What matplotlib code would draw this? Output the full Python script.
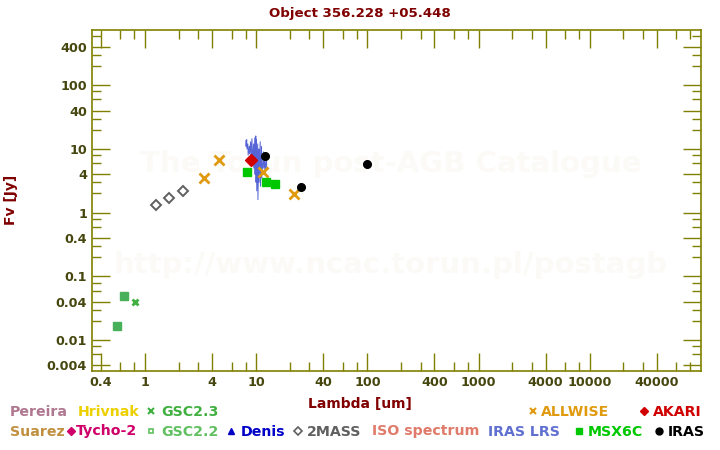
import matplotlib
matplotlib.use("Agg")
import matplotlib.pyplot as plt
from matplotlib.lines import Line2D
from matplotlib.ticker import FixedLocator, NullFormatter

plt.rcParams['font.family'] = ['DejaVu Sans']
plt.rcParams['font.weight'] = 'bold'

# --- photometry (wavelength in um, flux in Jy) ---
tmass_wave = [1.25, 1.65, 2.17]
tmass_flux = [1.31, 1.68, 2.19]

allwise_wave = [3.4, 4.6, 11.6, 22.0]
allwise_flux = [3.47, 6.65, 4.3, 1.94]

akari_wave = [9.0]
akari_flux = [6.65]

msx_wave = [8.28, 12.13, 14.65]
msx_flux = [4.3, 3.0, 2.79]

iras_wave = [12.0, 25.0, 100.0]
iras_flux = [7.7, 2.5, 5.75]

gsc23_wave = [0.81]
gsc23_flux = [0.039]

gsc22_wave = [0.647, 0.56]
gsc22_flux = [0.0487, 0.0165]

# IRAS LRS spectrum (short part visible)
lrs_wave = [8.05, 8.1, 8.2, 8.25, 8.4, 8.45, 8.65, 8.7, 8.9, 8.95, 9.15, 9.2,
            9.45, 9.5, 9.7, 9.75, 9.9, 9.95, 10.05, 10.1, 10.3, 10.35, 10.55,
            10.6, 10.85, 10.9, 11.15, 11.2, 11.6, 11.65, 11.9, 11.95, 12.35, 12.4]
lrs_flux = [13.5, 11, 14, 10, 12, 8, 11, 8.5, 13, 7, 14.5, 6, 12, 5, 15, 4,
            16, 3, 14, 2.2, 12, 1.6, 10, 3, 13, 2.6, 11, 3.5, 9, 5, 7, 4, 8, 5]

x_major = [0.4, 1, 4, 10, 40, 100, 400, 1000, 4000, 10000, 40000]
x_labels = ['0.4', '1', '4', '10', '40', '100', '400', '1000', '4000', '10000', '40000']
y_major = [0.004, 0.01, 0.04, 0.1, 0.4, 1, 4, 10, 40, 100, 400]
y_labels = ['0.004', '0.01', '0.04', '0.1', '0.4', '1', '4', '10', '40', '100', '400']

W, H = 720, 450
fig = plt.figure(figsize=(7.2, 4.5), dpi=100)
ax = fig.add_axes([92 / W, 1 - 371 / H, (701 - 92) / W, (371 - 29.5) / H])

olive = '#808000'
lab_col = '#46460f'
dred = '#800000'

ax.set_xscale('log')
ax.set_yscale('log')
ax.set_xlim(0.333, 1.0e5)
ax.set_ylim(0.00327, 750)

# watermark
ax.text(0.49, 0.605, 'The Torun post-AGB Catalogue', transform=ax.transAxes,
        ha='center', va='center', fontsize=21, color='#fbfaf6', zorder=0)
ax.text(0.49, 0.31, 'http://www.ncac.torun.pl/postagb', transform=ax.transAxes,
        ha='center', va='center', fontsize=21, color='#fbfaf6', zorder=0)

ax.plot(lrs_wave, lrs_flux, color='#5565d5', lw=0.7, zorder=2)
ax.plot(tmass_wave, tmass_flux, 'D', ms=5, mfc='white', mec='#606060', mew=1.4, ls='none', zorder=3)
ax.plot(allwise_wave, allwise_flux, 'x', ms=6.5, color='#e09a10', mew=2, ls='none', zorder=3)
ax.plot(msx_wave, msx_flux, 's', ms=5.5, color='#00c800', ls='none', zorder=3)
ax.plot(akari_wave, akari_flux, 'D', ms=6, color='#d00000', ls='none', zorder=4)
ax.plot(iras_wave, iras_flux, 'o', ms=5.5, color='black', ls='none', zorder=4)
ax.plot(gsc23_wave, gsc23_flux, 'x', ms=5, color='#40b040', mew=2, ls='none', zorder=3)
ax.plot(gsc22_wave, gsc22_flux, 's', ms=5.5, color='#48b058', ls='none', zorder=3)

# ticks
minor_x = [m * 10.0 ** k for k in range(-1, 6) for m in (2, 3, 6, 8)]
minor_y = [m * 10.0 ** k for k in range(-3, 3) for m in (2, 3, 6, 8)]
ax.xaxis.set_major_locator(FixedLocator(x_major))
ax.yaxis.set_major_locator(FixedLocator(y_major))
ax.xaxis.set_minor_locator(FixedLocator(minor_x))
ax.yaxis.set_minor_locator(FixedLocator(minor_y))
ax.xaxis.set_minor_formatter(NullFormatter())
ax.yaxis.set_minor_formatter(NullFormatter())
ax.set_xticklabels(x_labels)
ax.set_yticklabels(y_labels)
ax.tick_params(which='both', direction='in', top=True, right=True, color=olive,
               width=1, labelcolor=lab_col, labelsize=9.2, pad=3.5)
ax.tick_params(which='major', length=13)
ax.tick_params(which='minor', length=6.5)
for s in ax.spines.values():
    s.set_color(olive)
    s.set_linewidth(1.2)


def fx(x):
    return x / W


def fy(y):
    return 1 - y / H


fig.text(0.5, fy(16.5), 'Object 356.228 +05.448', ha='center', va='baseline',
         fontsize=9.6, color=dred)
fig.text(0.5, fy(408), 'Lambda [um]', ha='center', va='baseline', fontsize=10, color=dred)
fig.text(fx(11), 0.5 * (fy(29.5) + fy(371)), 'Fv [Jy]', rotation=90, ha='center',
         va='center', fontsize=10, color=dred)

# legend: (text, x, baseline y, color, marker, marker x, marker style)
r1, r2 = 415.5, 435.5
legend = [
    ('Pereira', 10, r1, '#b07890', None, None, {}),
    ('Hrivnak', 78, r1, '#ecd000', None, None, {}),
    ('GSC2.3', 161, r1, '#40b040', 'x', 150.5, dict(ms=4, mew=1.5)),
    ('ALLWISE', 541, r1, '#e09a10', 'x', 533, dict(ms=5, mew=1.5)),
    ('AKARI', 653, r1, '#d00000', 'D', 643.5, dict(ms=4.5)),
    ('Suarez', 10, r2, '#c0903f', None, None, {}),
    ('Tycho-2', 76, r2, '#d0006a', 'D', 71, dict(ms=4.5)),
    ('GSC2.2', 161, r2, '#60c060', 's', 150.5, dict(ms=3.5, mfc='white', mew=1.2)),
    ('Denis', 241, r2, '#0000c8', '^', 231, dict(ms=5)),
    ('2MASS', 307, r2, '#606060', 'D', 298, dict(ms=4.5, mfc='white', mew=1.2)),
    ('ISO spectrum', 372, r2, '#e07a6a', None, None, {}),
    ('IRAS LRS', 488, r2, '#6070d0', None, None, {}),
    ('MSX6C', 588, r2, '#00c800', 's', 578.5, dict(ms=5)),
    ('IRAS', 668, r2, 'black', 'o', 659, dict(ms=5)),
]
for txt, x, y, col, mk, mx, kw in legend:
    fig.text(fx(x), fy(y), txt, ha='left', va='baseline', fontsize=10.2, color=col)
    if mk:
        fig.add_artist(Line2D([fx(mx)], [fy(y - 5)], marker=mk, color=col,
                              ls='none', transform=fig.transFigure, **kw))

fig.savefig('out.png', dpi=100)
